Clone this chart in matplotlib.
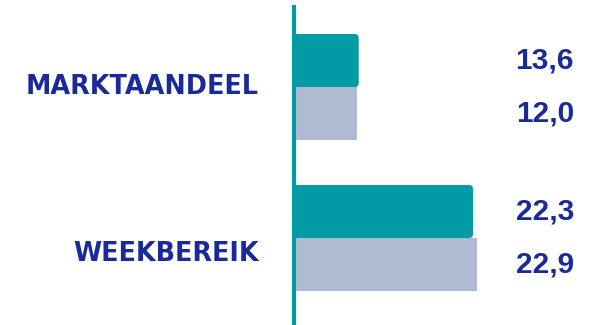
import matplotlib
matplotlib.use("Agg")
import matplotlib.pyplot as plt
from matplotlib.patches import FancyBboxPatch
from matplotlib.transforms import blended_transform_factory

categories = ["MARKTAANDEEL", "WEEKBEREIK"]
teal_values = [8.1, 22.4]      # drawn bar lengths
grey_values = [7.9, 22.9]
teal_labels = ["13,6", "22,3"]
grey_labels = ["12,0", "22,9"]

TEAL = "#009BA5"
GREY = "#B0BBD3"
NAVY = "#1A2A98"

W, H = 608, 325
fig = plt.figure(figsize=(W / 100, H / 100), dpi=100)
ax_left = 294 / W
ax_top = 7
ax = fig.add_axes([ax_left, 0, 1 - ax_left, (H - ax_top) / H])

bh = 0.351
off = bh / 2
ypos = [0, 1]
ax.set_ylim(1.576, -0.53)
ax.set_xlim(0, 39.3)

# grey bars (square)
ax.barh([y + off for y in ypos], grey_values, height=bh, color=GREY, zorder=2)

# teal bars with rounded right corners
rx = 0.5
ry = 0.0265
for y, v in zip(ypos, teal_values):
    p = FancyBboxPatch((-1.5, y - off - bh / 2), v + 1.5, bh,
                       boxstyle=f"round,pad=0,rounding_size={rx}",
                       mutation_aspect=ry / rx,
                       facecolor=TEAL, edgecolor="none", zorder=3)
    ax.add_patch(p)

for s in ["top", "right", "bottom"]:
    ax.spines[s].set_visible(False)
ax.spines["left"].set_color(TEAL)
ax.spines["left"].set_linewidth(3.0)
ax.spines["left"].set_zorder(5)
ax.set_xticks([])
ax.set_yticks([])
ax.patch.set_alpha(0)

tr = blended_transform_factory(fig.transFigure, ax.transData)
num_font = dict(fontsize=21.5, fontweight="bold",
                family=["Liberation Sans", "DejaVu Sans"], color=NAVY)
for y, tl, gl in zip(ypos, teal_labels, grey_labels):
    ax.text(574 / W, y - off, tl, transform=tr, ha="right", va="center",
            clip_on=False, **num_font)
    ax.text(574 / W, y + off, gl, transform=tr, ha="right", va="center",
            clip_on=False, **num_font)

cat_y = [86.5, 254]
for c, yp in zip(categories, cat_y):
    fig.text(259 / W, 1 - yp / H, c, ha="right", va="center",
             fontsize=18.4, fontweight="bold", family="DejaVu Sans",
             color=NAVY)

fig.savefig("out.png", dpi=100)
